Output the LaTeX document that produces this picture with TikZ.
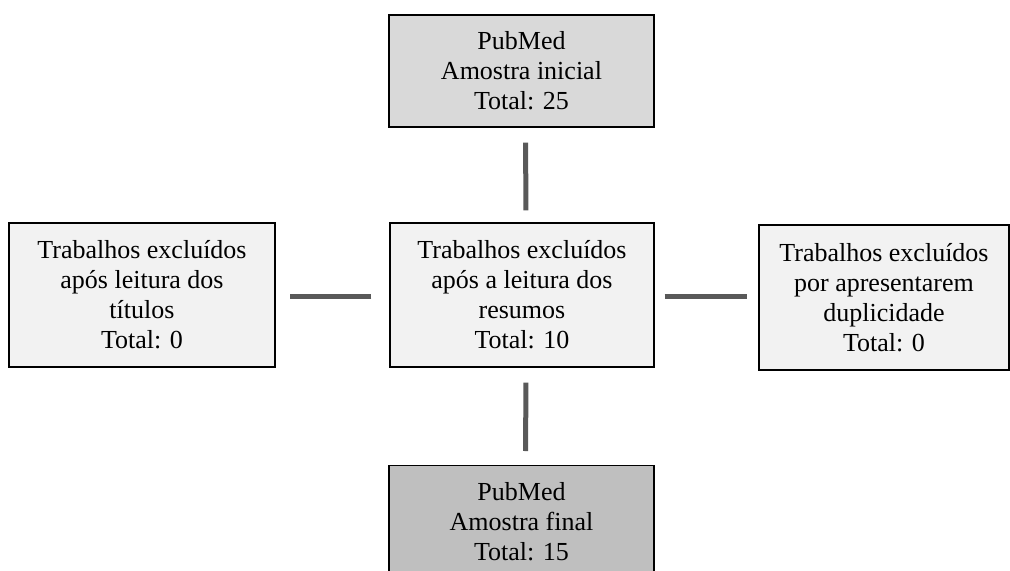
\documentclass[tikz,border=0pt]{standalone}
\usepackage{fontspec}
\setmainfont{Liberation Serif}
\definecolor{boxA}{HTML}{D9D9D9}
\definecolor{boxB}{HTML}{F2F2F2}
\definecolor{boxC}{HTML}{BFBFBF}
\definecolor{connc}{HTML}{595959}
\begin{document}
\begin{tikzpicture}[x=0.75pt,y=-0.75pt,
  box/.style={draw=black, line width=1.1pt, rectangle, align=center, inner sep=0pt,
    font=\fontsize{19.5}{22.5}\selectfont, text=black},
  conn/.style={draw=connc, line width=3.75pt}]
\useasboundingbox (0,0) rectangle (1010,571);
\node[box, fill=boxA, minimum width=198.75pt, minimum height=84pt] (top) at (521.5,71) {PubMed\\Amostra inicial\\Total: 25};
\node[box, fill=boxB, minimum width=198pt, minimum height=108pt] (mid) at (522,295) {Trabalhos excluídos\\após a leitura dos\\resumos\\Total: 10};
\node[box, fill=boxB, minimum width=199.5pt, minimum height=108pt] (left) at (142,295) {Trabalhos excluídos\\após leitura dos\\títulos\\Total: 0};
\node[box, fill=boxB, minimum width=187.5pt, minimum height=108.75pt] (right) at (884,297.5) {Trabalhos excluídos\\por apresentarem\\duplicidade\\Total: 0};
\node[box, fill=boxC, minimum width=198.75pt, minimum height=84pt, anchor=north] (bot) at (521.5,465) {PubMed\\Amostra final\\Total: 15};
\draw[conn, shorten <=11.25pt, shorten >=9pt] ([xshift=3pt]top.south) -- ([xshift=3pt]mid.north);
\draw[conn, shorten <=11.25pt, shorten >=10.5pt] ([xshift=3pt]mid.south) -- ([xshift=3pt]bot.north);
\draw[conn, shorten <=13.5pt, shorten >=10.5pt] ([yshift=-0.75pt]mid.west) -- ([yshift=-0.75pt]mid.west -| left.east);
\draw[conn, shorten <=7.5pt, shorten >=8.25pt] ([yshift=-0.75pt]mid.east) -- ([yshift=-0.75pt]mid.east -| right.west);
\end{tikzpicture}
\end{document}
